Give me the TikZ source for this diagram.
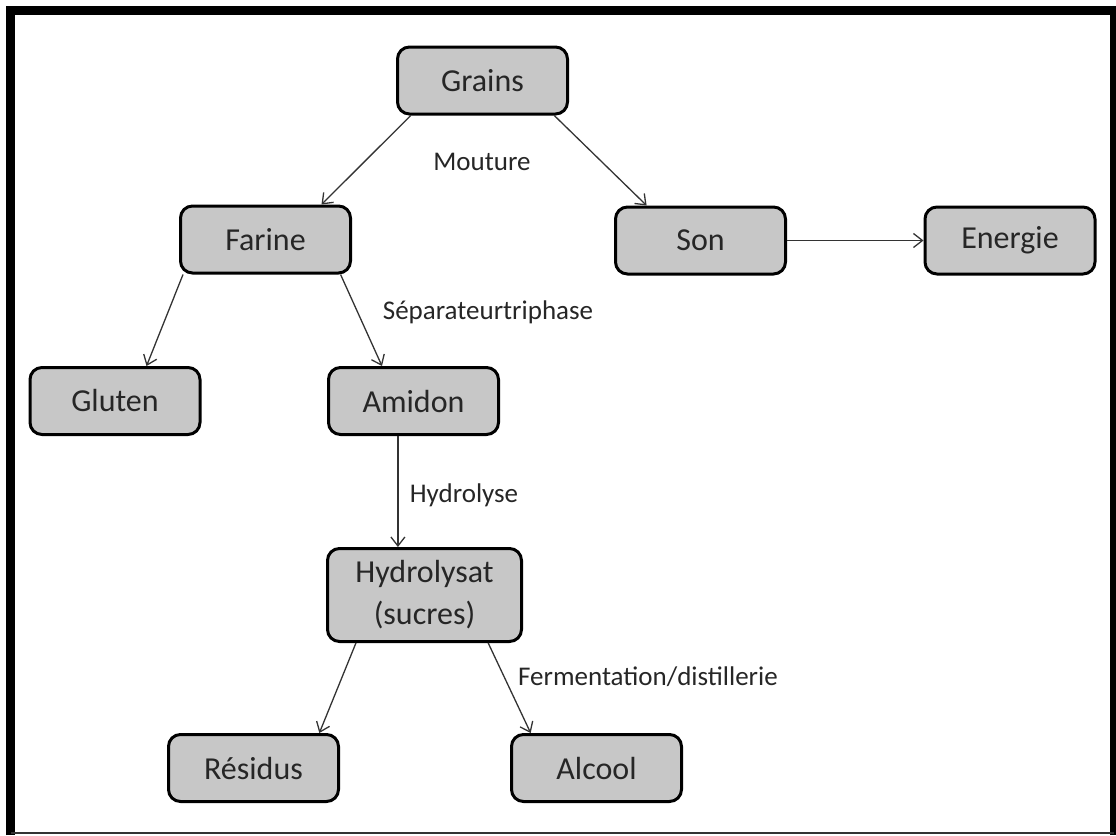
\documentclass[tikz,border=0pt]{standalone}
\usepackage{fontspec}
\setmainfont{Carlito}
\usetikzlibrary{arrows.meta}
\usetikzlibrary{calc}

\begin{document}
\begin{tikzpicture}[
        x=1pt, y=-1pt,
        every node/.style={text=black!85},
        box/.style={draw=black, fill=black!22, line width=3pt, rounded corners=12pt,
            minimum width=170pt, minimum height=67pt, inner sep=0pt, align=center,
            font=\fontsize{32}{42}\selectfont},
        arrow/.style={-{Straight Barb[length=9pt,width=14pt]}, line width=1.3pt, draw=black!80},
        label/.style={font=\fontsize{27}{32}\selectfont, inner sep=0pt}
    ]

        \useasboundingbox (0,0) rectangle (1116,835);

        % -------------------------------------------------
        % Cadre
        % -------------------------------------------------
        \draw[black, line width=9pt] (10.5,835) -- (10.5,10.5) -- (1114,10.5) -- (1114,835);
        \draw[black!80, line width=2pt] (10.5,833) -- (1114,833);

        % -------------------------------------------------
        % Noeuds
        % -------------------------------------------------
        \node[box] (grains) at (482.5,80.5) {Grains};
        \node[box] (farine) at (265.5,239.5) {Farine};
        \node[box] (son) at (700.5,240.5) {Son};
        \node[box] (energie) at (1010,240.5) {Energie};
        \node[box] (gluten) at (115,401) {Gluten};
        \node[box] (amidon) at (413.5,401) {Amidon};
        \node[box, minimum width=194pt, minimum height=93pt] (hydro) at (424.5,595) {Hydrolysat\\(sucres)};
        \node[box] (residus) at (253.5,768) {Résidus};
        \node[box] (alcool) at (596.5,768) {Alcool};

        % -------------------------------------------------
        % Etiquettes
        % -------------------------------------------------
        \node[label] (mouture) at (482,162) {Mouture};
        \node[label] (separ) at (488,312) {Séparateurtriphase};
        \node[label] (hydrolyse) at (464,495) {Hydrolyse};
        \node[label] (ferment) at (648,677) {Fermentation/distillerie};

        % -------------------------------------------------
        % Flèches
        % -------------------------------------------------
        \draw[arrow] (grains.206.4) -- (farine.32.3);
        \draw[arrow] (grains.334.2) -- (son.147.8);
        \draw[arrow] (son.east) -- (energie.west);
        \draw[arrow] (farine.203.2) -- (gluten.48.4);
        \draw[arrow] (farine.335.7) -- (amidon.132.9);
        \draw[arrow] (amidon.246.4) -- (amidon.246.4 |- hydro.north);
        \draw[arrow] (hydro.215.8) -- (residus.28.4);
        \draw[arrow] (hydro.323.3) -- (alcool.152.6);

    \end{tikzpicture}
\end{document}
